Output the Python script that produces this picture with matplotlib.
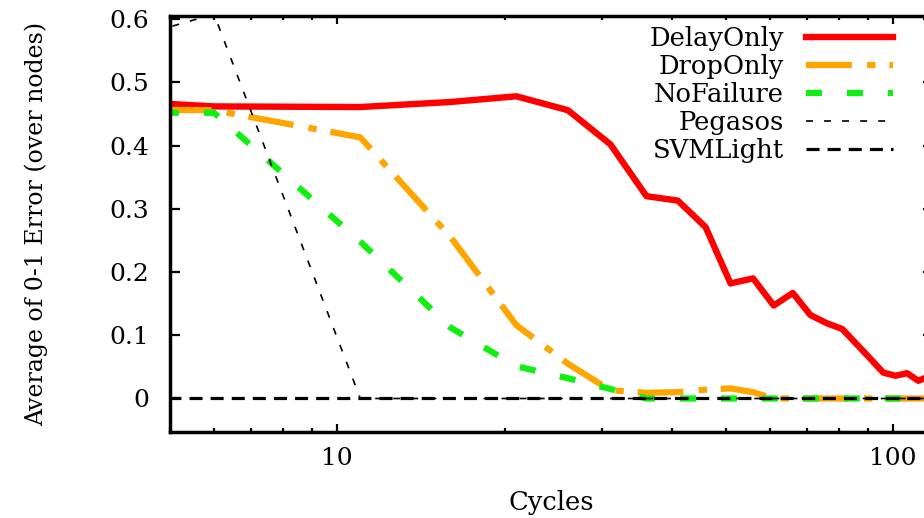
#!/usr/bin/env python3
"""Average 0-1 error over nodes vs. cycles (log x), gnuplot-style look."""

import matplotlib
matplotlib.use("Agg")
import matplotlib.pyplot as plt
from matplotlib.ticker import LogLocator, NullFormatter

plt.rcParams["font.family"] = ["DejaVu Serif"]
plt.rcParams["lines.scale_dashes"] = False

# sampled every 5 cycles
cycles = [1, 6, 11, 16, 21, 26, 31, 36, 41, 46, 51, 56, 61,
          66, 71, 76, 81, 86, 91, 96, 101, 106, 111, 116, 121]

delay_only = [0.500, 0.462, 0.461, 0.469, 0.478, 0.456, 0.402, 0.320,
              0.313, 0.271, 0.182, 0.190, 0.147, 0.167, 0.132, 0.119,
              0.110, 0.086, 0.063, 0.041, 0.036, 0.040, 0.028, 0.035,
              0.033]
drop_only = [0.460, 0.456, 0.413, 0.255, 0.116, 0.055, 0.013, 0.009,
             0.010, 0.014, 0.016, 0.010, 0.0, 0.0, 0.0, 0.0, 0.0, 0.0,
             0.0, 0.0, 0.0, 0.0, 0.0, 0.0, 0.0]
no_failure = [0.452, 0.452, 0.248, 0.112, 0.051, 0.032, 0.015, 0.0,
              0.0, 0.0, 0.0, 0.0, 0.0, 0.0, 0.0, 0.0, 0.0, 0.0, 0.0,
              0.0, 0.0, 0.0, 0.0, 0.0, 0.0]
pegasos = [0.410, 0.608, 0.0, 0.0, 0.0, 0.0, 0.0, 0.0, 0.0, 0.0, 0.0,
           0.0, 0.0, 0.0, 0.0, 0.0, 0.0, 0.0, 0.0, 0.0, 0.0, 0.0, 0.0,
           0.0, 0.0]
svm_light = [0.0] * len(cycles)

labels = ["DelayOnly", "DropOnly", "NoFailure", "Pegasos", "SVMLight"]
y_ticks = [0, 0.1, 0.2, 0.3, 0.4, 0.5, 0.6]
y_tick_labels = ["0", "0.1", "0.2", "0.3", "0.4", "0.5", "0.6"]
x_ticks = [10, 100]
x_tick_labels = ["10", "100"]

FS_TICK = 18
FS_TEXT = 18.5

fig = plt.figure(figsize=(9.24, 5.18), dpi=100)
# right edge of the plot sits just past the image border, as in the scan
ax = fig.add_axes([170 / 924, 86 / 518, 763 / 924, 416 / 518])

ax.plot(cycles, delay_only, color="#ff0000", lw=4.6, label=labels[0])
ax.plot(cycles, drop_only, color="#ffa500", lw=4.5,
        dashes=(33, 11, 6, 10), label=labels[1])
ax.plot(cycles, no_failure, color="#10f010", lw=4.5,
        dashes=(11.5, 18), label=labels[2])
ax.plot(cycles, pegasos, color="black", lw=1.2,
        dashes=(5, 8), label=labels[3])
ax.plot(cycles, svm_light, color="black", lw=2.3,
        dashes=(9.4, 5.8), label=labels[4])

ax.set_xscale("log")
ax.set_xlim(5, 118)
ax.set_ylim(-0.053, 0.605)
ax.set_xticks(x_ticks)
ax.set_xticklabels(x_tick_labels)
ax.xaxis.set_minor_locator(LogLocator(base=10, subs=range(2, 10)))
ax.xaxis.set_minor_formatter(NullFormatter())
ax.set_yticks(y_ticks)
ax.set_yticklabels(y_tick_labels)

ax.tick_params(which="both", direction="in", top=True, right=True,
               labelsize=FS_TICK, width=1.6)
ax.tick_params(axis="y", which="major", length=7, pad=15)
ax.tick_params(axis="x", which="major", length=6, pad=11)
ax.tick_params(which="minor", length=3)
for sp in ax.spines.values():
    sp.set_linewidth(2.5)

ax.set_xlabel("Cycles", fontsize=FS_TEXT, labelpad=14)
ax.set_ylabel("Average of 0-1 Error (over nodes)", fontsize=17, labelpad=44)

ax.legend(loc="upper right", bbox_to_anchor=(893 / 924, 1 - 26 / 518),
          bbox_transform=fig.transFigure, frameon=False, markerfirst=False,
          fontsize=FS_TEXT, handlelength=62.6 / FS_TEXT, handletextpad=0.85,
          labelspacing=0.12, borderpad=0, borderaxespad=0)

fig.savefig("out.png", dpi=100)
